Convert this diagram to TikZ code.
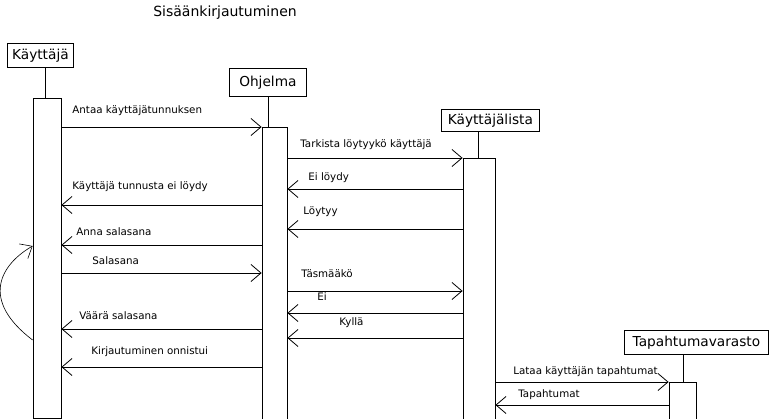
\documentclass[tikz,border=0pt]{standalone}
\usepackage{fontspec}
\setmainfont{DejaVu Sans}
\usetikzlibrary{arrows.meta}

\begin{document}
\begin{tikzpicture}[x=1pt,y=-1pt,line width=0.8pt,
  head/.style={draw,inner sep=0pt,font=\fontsize{13.7}{16}\selectfont,anchor=north west},
  actbar/.style={draw,inner sep=0pt,anchor=north,fill=white},
  msg/.style={-{Straight Barb[length=10pt,width=17pt]}},
  lbl/.style={anchor=west,inner sep=0pt,font=\fontsize{10.3}{12}\selectfont}]
\useasboundingbox (0,0) rectangle (780,419);
\clip (0,0) rectangle (780,419);

\node[font=\fontsize{14}{16}\selectfont] (title) at (225,13) {Sisäänkirjautuminen};

% otsikot
\node[head,minimum width=66pt,minimum height=24pt] (user) at (7,43) {Käyttäjä};
\node[head,minimum width=77pt,minimum height=28pt] (prog) at (229,68) {Ohjelma};
\node[head,minimum width=98pt,minimum height=22pt] (list) at (441,109) {Käyttäjälista};
\node[head,minimum width=144pt,minimum height=24pt] (store) at (624,330) {Tapahtumavarasto};

% aktivaatiot
\node[actbar,minimum width=28pt,minimum height=320pt] (userbar) at (47,98) {};
\node[actbar,minimum width=25pt,minimum height=310pt] (progbar) at (274.5,127) {};
\node[actbar,minimum width=32pt,minimum height=280pt] (listbar) at (479,158) {};
\node[actbar,minimum width=27pt,minimum height=60pt] (storebar) at (682.5,382) {};

% elämänviivat
\draw (userbar.north -| 45,0) -- (user.south -| 45,0);
\draw (progbar.north -| 268,0) -- (prog.south -| 268,0);
\draw (listbar.north -| 478,0) -- (list.south -| 478,0);
\draw (storebar.north -| 683,0) -- (store.south -| 683,0);

% viestit
\draw[msg] (userbar.east |- 0,127) -- (progbar.west |- 0,127);
\node[lbl] (m1) at (72,111) {Antaa käyttäjätunnuksen};

\draw[msg] (progbar.east |- 0,158) -- (listbar.west |- 0,158);
\node[lbl] (m2) at (300,145) {Tarkista löytyykö käyttäjä};

\draw[msg] (listbar.west |- 0,189) -- (progbar.east |- 0,189);
\node[lbl] (m3) at (308,178) {Ei löydy};

\draw[msg] (progbar.west |- 0,205) -- (userbar.east |- 0,205);
\node[lbl] (m4) at (72,187) {Käyttäjä tunnusta ei löydy};

\draw[msg] (listbar.west |- 0,229) -- (progbar.east |- 0,229);
\node[lbl] (m5) at (303,212) {Löytyy};

\draw[msg] (progbar.west |- 0,245) -- (userbar.east |- 0,245);
\node[lbl] (m6) at (76,232) {Anna salasana};

\draw[msg] (userbar.east |- 0,273) -- (progbar.west |- 0,273);
\node[lbl] (m7) at (92,261) {Salasana};

\draw[msg] (progbar.east |- 0,291) -- (listbar.west |- 0,291);
\node[lbl] (m8) at (301,274) {Täsmääkö};

\draw[msg] (listbar.west |- 0,313) -- (progbar.east |- 0,313);
\node[lbl] (m9) at (317,297) {Ei};

\draw[msg] (progbar.west |- 0,329) -- (userbar.east |- 0,329);
\node[lbl] (m10) at (79,316) {Väärä salasana};

\draw[msg] (listbar.west |- 0,338) -- (progbar.east |- 0,338);
\node[lbl] (m11) at (339,323) {Kyllä};

\draw[msg] (progbar.west |- 0,367) -- (userbar.east |- 0,367);
\node[lbl] (m12) at (91,352) {Kirjautuminen onnistui};

\draw[msg] (listbar.east |- 0,382) -- (storebar.west |- 0,382);
\node[lbl] (m13) at (513,372) {Lataa käyttäjän tapahtumat};

\draw[msg] (storebar.west |- 0,405) -- (listbar.east |- 0,405);
\node[lbl] (m14) at (518,395) {Tapahtumat};

% paluu itselle
\draw[msg,line width=0.6pt] (userbar.west |- 0,340) .. controls (-20,300) and (0,265) .. (userbar.west |- 0,246);
\end{tikzpicture}
\end{document}
